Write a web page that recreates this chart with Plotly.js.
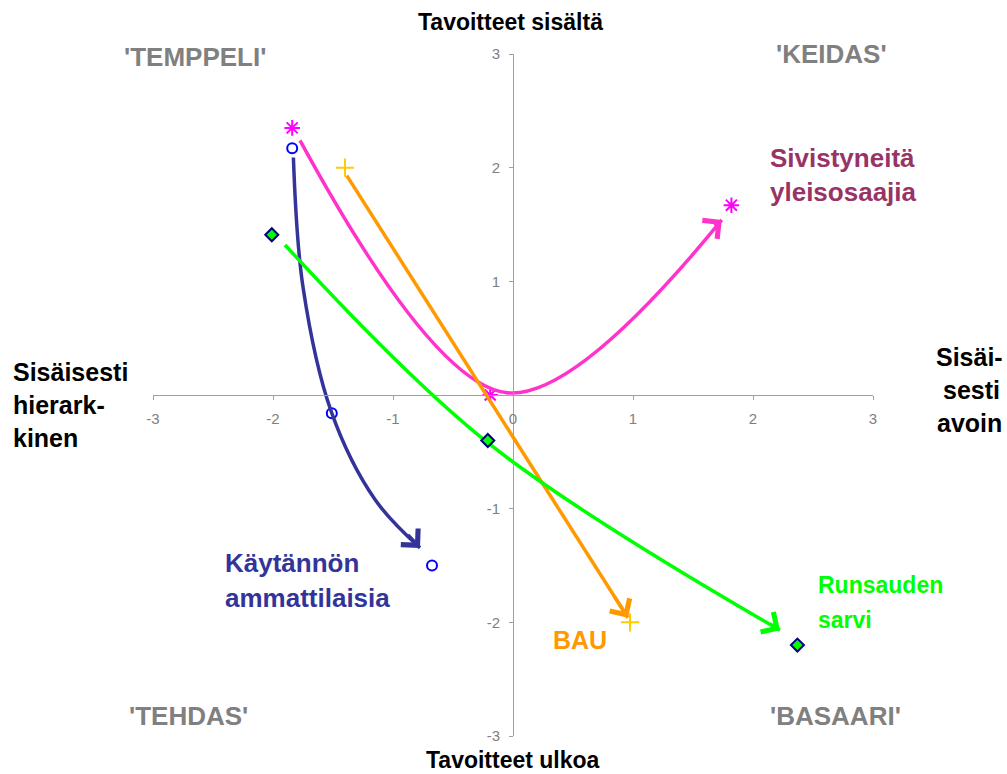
<!DOCTYPE html>
<html>
<head>
<meta charset="utf-8">
<script src="https://cdn.plot.ly/plotly-3.0.1.min.js"></script>
<style>html,body{margin:0;padding:0;background:#fff;}#chart{width:1007px;height:774px;}</style>
</head>
<body>
<div id="chart"></div>
<script>
// ---- data ----
var tickValsX = [-3, -2, -1, 0, 1, 2, 3];
var tickValsY = [-3, -2, -1, 1, 2, 3];

// marker series: start / middle / end of each scenario
var blueX = [-1.84, -1.51, -0.675];
var blueY = [2.17, -0.16, -1.50];
var magentaX = [-1.84, -0.19, 1.82];
var magentaY = [2.35, 0.0, 1.67];
var orangeX = [-1.40, 0.975];
var orangeY = [2.0, -2.0];
var greenX = [-2.01, -0.21, 2.37];
var greenY = [1.41, -0.40, -2.2];

// arrow paths (smoothed curves)
var blueCurveX = [-1.83, -1.75, -1.51, -1.15, -0.775];
var blueCurveY = [2.09, 0.95, -0.16, -0.92, -1.345];
var magentaCurveX = [-1.775, -0.05, 1.74];
var magentaCurveY = [2.24, 0.02, 1.54];
var orangeCurveX = [-1.385, 0.958];
var orangeCurveY = [1.93, -1.96];
var greenCurveX = [-1.90, -0.21, 2.225];
var greenCurveY = [1.32, -0.42, -2.07];

var FONT = '"Liberation Sans", Arial, sans-serif';
var C_BLUE_LINE = '#333399', C_BLUE_MK = '#0000FF';
var C_MAG_LINE = '#FF33CC', C_MAG_MK = '#FF00FF';
var C_OR_LINE = '#FF9900', C_OR_MK = '#FFCC00';
var C_GR_LINE = '#00FF00', C_GR_MK = '#00FF00', C_GR_EDGE = '#000080';

// plot area in pixels
var L = 153, R = 134, T = 54, B = 38, W = 1007, H = 774;
var PW = W - L - R, PH = H - T - B;
function px(x) { return (x - L) / PW; }
function py(y) { return (H - B - y) / PH; }

var traces = [];
function curve(xs, ys, color, shape) {
  traces.push({x: xs, y: ys, mode: 'lines', type: 'scatter', hoverinfo: 'skip',
    line: {color: color, width: 3.5, shape: shape, smoothing: 1}, showlegend: false, cliponaxis: false});
}
function markers(xs, ys, symbol, size, color, lineColor, lineWidth) {
  traces.push({x: xs, y: ys, mode: 'markers', type: 'scatter', hoverinfo: 'skip', showlegend: false, cliponaxis: false,
    marker: {symbol: symbol, size: size, color: color, line: {color: lineColor, width: lineWidth}}});
}

markers(blueX, blueY, 'circle-open', 10, C_BLUE_MK, C_BLUE_MK, 2);
markers(magentaX, magentaY, 'asterisk-open', 13, C_MAG_MK, C_MAG_MK, 2);
markers(orangeX, orangeY, 'cross-thin-open', 13, C_OR_MK, C_OR_MK, 2);
curve(blueCurveX, blueCurveY, C_BLUE_LINE, 'spline');
curve(magentaCurveX, magentaCurveY, C_MAG_LINE, 'spline');
curve(orangeCurveX, orangeCurveY, C_OR_LINE, 'linear');
curve(greenCurveX, greenCurveY, C_GR_LINE, 'spline');
markers(greenX, greenY, 'diamond', 10, C_GR_MK, C_GR_EDGE, 2);

// arrowheads at curve ends (short tail so the straight arrow shaft hides under the curve)
var annotations = [];
function arrowAt(xs, ys, color, frac) {
  var n = xs.length;
  var tx = xs[n - 1], ty = ys[n - 1];
  var bx = tx - (tx - xs[n - 2]) * frac, by = ty - (ty - ys[n - 2]) * frac;
  annotations.push({x: tx, y: ty, ax: bx, ay: by, xref: 'x', yref: 'y', axref: 'x', ayref: 'y',
    showarrow: true, arrowhead: 4, arrowsize: 1.3, arrowwidth: 3.5, arrowcolor: color, text: '', standoff: 0});
}
arrowAt(blueCurveX, blueCurveY, C_BLUE_LINE, 0.3);
arrowAt(magentaCurveX, magentaCurveY, C_MAG_LINE, 0.04);
arrowAt(orangeCurveX, orangeCurveY, C_OR_LINE, 0.05);
arrowAt(greenCurveX, greenCurveY, C_GR_LINE, 0.04);

function label(text, x, y, color, size, anchor) {
  annotations.push({text: '<b>' + text + '</b>', x: px(x), y: py(y), xref: 'paper', yref: 'paper',
    xanchor: anchor || 'center', yanchor: 'middle', showarrow: false,
    font: {family: FONT, size: size, color: color}});
}
label('Tavoitteet sisältä', 510, 22, '#000', 23);
label('Tavoitteet ulkoa', 513, 760, '#000', 23);
label('Sisäisesti', 11, 372, '#000', 25, 'left');
label('hierark-', 11, 405, '#000', 25, 'left');
label('kinen', 11, 438, '#000', 25, 'left');
label('Sisäi-', 969, 357, '#000', 25);
label('sesti', 971, 390, '#000', 25);
label('avoin', 969, 423, '#000', 25);
label("'TEMPPELI'", 195, 57, '#808080', 26);
label("'KEIDAS'", 831, 54, '#808080', 26);
label("'TEHDAS'", 188, 716, '#808080', 26);
label("'BASAARI'", 835, 716, '#808080', 26);
label('Sivistyneitä', 768, 158, '#993366', 26, 'left');
label('yleisosaajia', 768, 192, '#993366', 26, 'left');
label('Käytännön', 223, 563, '#333399', 26, 'left');
label('ammattilaisia', 223, 598, '#333399', 26, 'left');
label('BAU', 551, 640, '#FF9900', 25, 'left');
label('Runsauden', 816, 585, '#00FF00', 23, 'left');
label('sarvi', 816, 620, '#00FF00', 23, 'left');

var axisCommon = {range: [-3, 3], showgrid: false, zeroline: false, showline: true, linecolor: '#A0A0A0', linewidth: 1,
  ticks: 'outside', ticklen: 4, tickcolor: '#A0A0A0', tickwidth: 1, tickmode: 'array',
  tickfont: {family: FONT, size: 15, color: '#808080'}, anchor: 'free', position: 0.5, fixedrange: true};

var layout = {
  width: W, height: H, margin: {l: L, r: R, t: T, b: B}, paper_bgcolor: '#fff', plot_bgcolor: '#fff',
  showlegend: false, hovermode: false, font: {family: FONT},
  xaxis: Object.assign({}, axisCommon, {tickvals: tickValsX, ticktext: tickValsX.map(String), ticklabelstandoff: 6}),
  yaxis: Object.assign({}, axisCommon, {tickvals: tickValsY, ticktext: tickValsY.map(String), ticklabelstandoff: 6}),
  annotations: annotations
};
Plotly.newPlot('chart', traces, layout, {staticPlot: true, displayModeBar: false});
</script>
</body>
</html>
